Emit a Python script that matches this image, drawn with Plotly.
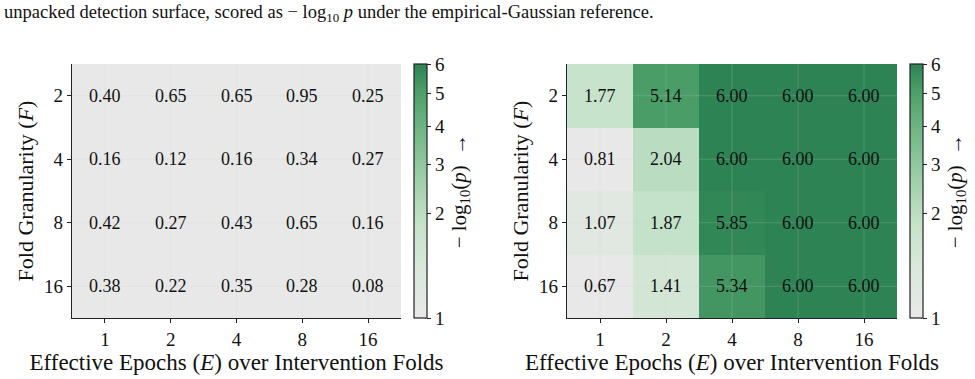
import numpy as np
import plotly.graph_objects as go

epochs = ["1", "2", "4", "8", "16"]
folds = ["2", "4", "8", "16"]

left_vals = [
    [0.40, 0.65, 0.65, 0.95, 0.25],
    [0.16, 0.12, 0.16, 0.34, 0.27],
    [0.42, 0.27, 0.43, 0.65, 0.16],
    [0.38, 0.22, 0.35, 0.28, 0.08],
]
right_vals = [
    [1.77, 5.14, 6.00, 6.00, 6.00],
    [0.81, 2.04, 6.00, 6.00, 6.00],
    [1.07, 1.87, 5.85, 6.00, 6.00],
    [0.67, 1.41, 5.34, 6.00, 6.00],
]
cbar_ticks = [1, 2, 3, 4, 5, 6]

VMIN, VMAX, GAMMA = 1.0, 6.0, 0.55


def norm(v):
    a = np.clip((np.asarray(v, dtype=float) - VMIN) / (VMAX - VMIN), 0, 1)
    return a ** GAMMA


colorscale = [
    [0.0, "rgb(232,232,232)"],
    [0.2, "rgb(217,232,219)"],
    [0.38, "rgb(196,226,201)"],
    [0.6, "rgb(145,200,158)"],
    [0.8, "rgb(98,174,122)"],
    [0.9, "rgb(74,157,102)"],
    [1.0, "rgb(45,131,83)"],
]

SERIF = "Liberation Serif"
TXT = "#111"
H = 379.0
W = 975.0
ytop, ybot = 64, 318
ydom = [1 - ybot / H, 1 - ytop / H]

panels = [
    dict(vals=left_vals, xdom=[72 / W, 401 / W], cbx=414 / W, ax=""),
    dict(vals=right_vals, xdom=[567 / W, 897 / W], cbx=910 / W, ax="2"),
]

fig = go.Figure()
for p in panels:
    vals = np.array(p["vals"])
    xa = "x" + p["ax"]
    ya = "y" + p["ax"]
    fig.add_trace(go.Heatmap(
        z=norm(vals), x=epochs, y=folds,
        colorscale=colorscale, zmin=0, zmax=1,
        xaxis=xa, yaxis=ya,
        hoverinfo="skip",
        colorbar=dict(
            x=p["cbx"], xanchor="left", xref="paper", xpad=0, ypad=0,
            y=(ydom[0] + ydom[1]) / 2, yanchor="middle",
            len=(ybot - ytop) / H, lenmode="fraction",
            thickness=13, outlinewidth=1.2, outlinecolor="#222",
            tickvals=list(norm(cbar_ticks)), ticktext=[str(t) for t in cbar_ticks],
            ticks="outside", ticklen=4, tickcolor="#222",
            tickfont=dict(family=SERIF, size=19, color=TXT),
            title=dict(text="− log<sub>10</sub>(<i>p</i>)  →", side="right",
                       font=dict(family=SERIF, size=21, color=TXT)),
        ),
    ))
    # faint grid lines over the cells
    for i in range(len(epochs)):
        fig.add_shape(type="line", xref=xa, yref=ya + " domain", x0=i, x1=i, y0=0, y1=1,
                      line=dict(color="rgba(210,210,210,0.22)", width=1), layer="above")
    for j in range(len(folds)):
        fig.add_shape(type="line", xref=xa + " domain", yref=ya, x0=0, x1=1, y0=j, y1=j,
                      line=dict(color="rgba(210,210,210,0.22)", width=1), layer="above")
    # cell values (positioned by category index)
    for j in range(len(folds)):
        for i in range(len(epochs)):
            fig.add_annotation(
                x=i, y=j, xref=xa, yref=ya, text=f"{vals[j][i]:.2f}",
                showarrow=False, font=dict(family=SERIF, size=18, color=TXT),
            )

axis_common = dict(
    showline=True, linecolor="#222", linewidth=1.2, mirror=False,
    ticks="outside", ticklen=4, tickcolor="#222", showgrid=False, zeroline=False,
    tickfont=dict(family=SERIF, size=19, color=TXT),
)
for p in panels:
    xk = "xaxis" + p["ax"]
    yk = "yaxis" + p["ax"]
    fig.update_layout(**{
        xk: dict(domain=p["xdom"], anchor="y" + p["ax"], type="category",
                 categoryorder="array", categoryarray=epochs,
                 range=[-0.5, len(epochs) - 0.5],
                 title=dict(text="Effective Epochs (<i>E</i>) over Intervention Folds",
                            font=dict(family=SERIF, size=23, color=TXT), standoff=3),
                 **axis_common),
        yk: dict(domain=ydom, anchor="x" + p["ax"], type="category",
                 categoryorder="array", categoryarray=folds,
                 range=[len(folds) - 0.5, -0.5],
                 title=dict(text="Fold Granularity (<i>F</i>)",
                            font=dict(family=SERIF, size=22, color=TXT), standoff=4),
                 **axis_common),
    })

fig.add_annotation(
    text="unpacked detection surface, scored as − log<sub>10</sub> <i>p</i> under the empirical-Gaussian reference.",
    xref="paper", yref="paper", x=0.002, y=1.0, xanchor="left", yanchor="top",
    showarrow=False, font=dict(family=SERIF, size=18.5, color=TXT),
)

fig.update_layout(
    width=975, height=379, margin=dict(l=0, r=0, t=0, b=0),
    paper_bgcolor="white", plot_bgcolor="white",
    font=dict(family=SERIF, color=TXT),
)

fig.write_html("out.html")
